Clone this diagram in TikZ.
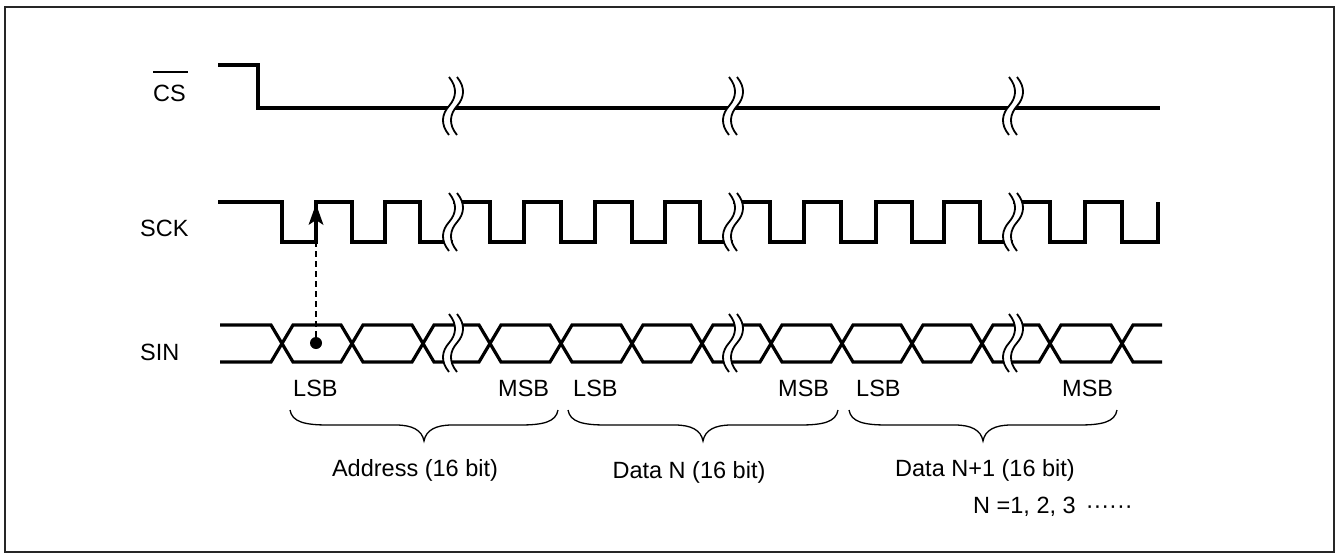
\documentclass[tikz,border=0pt]{standalone}
\usepackage{fontspec}
\setmainfont{Liberation Sans}
\usetikzlibrary{arrows.meta,calc}
\tikzset{
  sig/.style={line width=3.2pt},
  lbl/.style={inner sep=0pt,font=\fontsize{23.5}{28}\selectfont},
  brc/.style={line width=1.3pt},
  brkline/.style={line width=1.8pt},
  brk/.pic={
    \fill[white] (-4,-29) .. controls (5,-18) and (3,-8) .. (-4,0) .. controls (-11,8) and (-13,18) .. (-4,29)
      -- (4,29) .. controls (-5,18) and (-3,8) .. (4,0) .. controls (11,-8) and (13,-18) .. (4,-29) -- cycle;
    \draw[brkline] (-4,-29) .. controls (5,-18) and (3,-8) .. (-4,0) .. controls (-11,8) and (-13,18) .. (-4,29);
    \draw[brkline] (4,-29) .. controls (13,-18) and (11,-8) .. (4,0) .. controls (-3,8) and (-5,18) .. (4,29);
  }
}
\begin{document}
\begin{tikzpicture}[x=1pt,y=-1pt]
\useasboundingbox (0,0) rectangle (1338,558);
\draw[line width=2.4pt,draw=black!85] (5,7) rectangle (1334,552);

% CS
\draw[sig] (218,65) -- (258,65) -- (258,108) -- (1160,108);

% SCK
\draw[sig] (218,202) -- (282,202) -- (282,242) -- (316,242) -- (316,202) -- (352,202) -- (352,242) -- (385,242) -- (385,202) -- (420,202) -- (420,242) -- (453,242);
\draw[sig] (453,202) -- (490,202) -- (490,242) -- (524,242) -- (524,202) -- (561,202) -- (561,242) -- (595,242) -- (595,202) -- (632,202) -- (632,242) -- (665,242) -- (665,202) -- (700,202) -- (700,242) -- (733,242);
\draw[sig] (733,202) -- (770,202) -- (770,242) -- (804,242) -- (804,202) -- (841,202) -- (841,242) -- (876,242) -- (876,202) -- (912,202) -- (912,242) -- (944,242) -- (944,202) -- (980,202) -- (980,242) -- (1013,242);
\draw[sig] (1013,202) -- (1050,202) -- (1050,242) -- (1085,242) -- (1085,202) -- (1122,202) -- (1122,242) -- (1158,242) -- (1158,202);

% SIN
\draw[sig] (220,325) -- (271,325) -- (293,362) -- (341,362) -- (363,325) -- (412,325) -- (434,362) -- (453,362);
\draw[sig] (220,362) -- (271,362) -- (293,325) -- (341,325) -- (363,362) -- (412,362) -- (434,325) -- (453,325);
\draw[sig] (453,325) -- (479,325) -- (501,362) -- (550,362) -- (572,325) -- (621,325) -- (643,362) -- (691,362) -- (713,325) -- (733,325);
\draw[sig] (453,362) -- (479,362) -- (501,325) -- (550,325) -- (572,362) -- (621,362) -- (643,325) -- (691,325) -- (713,362) -- (733,362);
\draw[sig] (733,325) -- (760,325) -- (782,362) -- (831,362) -- (853,325) -- (901,325) -- (923,362) -- (971,362) -- (993,325) -- (1013,325);
\draw[sig] (733,362) -- (760,362) -- (782,325) -- (831,325) -- (853,362) -- (901,362) -- (923,325) -- (971,325) -- (993,362) -- (1013,362);
\draw[sig] (1013,325) -- (1039,325) -- (1061,362) -- (1111,362) -- (1133,325) -- (1162,325);
\draw[sig] (1013,362) -- (1039,362) -- (1061,325) -- (1111,325) -- (1133,362) -- (1162,362);

% breaks
\foreach \bx in {453,733,1013}{
  \pic at (\bx,106) {brk};
  \pic at (\bx,222) {brk};
  \pic at (\bx,343) {brk};
}

% sampling arrow
\node[circle,fill,inner sep=0pt,minimum size=12pt] (dot) at (316,343) {};
\coordinate (edge) at (316,204);
\draw[line width=2pt,dash pattern=on 6pt off 4pt] (dot) -- ($(edge)+(0,14)$);
\fill (edge) -- ++(7.5,21) -- ++(-7.5,-5) -- ++(-7.5,5) -- cycle;

% signal labels
\node[lbl,anchor=base west] (cs) at (153,101) {CS};
\draw[line width=2pt] ($(cs.base west)+(0,-29)$) -- ++(35,0);
\node[lbl,anchor=base west] (sck) at (140,236) {SCK};
\node[lbl,anchor=base west] (sin) at (140,360) {SIN};

% bit labels
\node[lbl,anchor=base west] (lsb1) at (293,396) {LSB};
\node[lbl,anchor=base west] (msb1) at (498,396) {MSB};
\node[lbl,anchor=base west] (lsb2) at (573,396) {LSB};
\node[lbl,anchor=base west] (msb2) at (778,396) {MSB};
\node[lbl,anchor=base west] (lsb3) at (856,396) {LSB};
\node[lbl,anchor=base west] (msb3) at (1062,396) {MSB};

% braces
\foreach \a/\b in {290/558,568/838,849/1117}{
  \pgfmathsetmacro{\m}{(\a+\b)/2}
  \draw[brc] (\a,410) .. controls (\a+2,422) and (\a+15,425) .. (\a+38,425) -- (\m-28,425)
    .. controls (\m-12,425) and (\m-2,430) .. (\m,441)
    .. controls (\m+2,430) and (\m+12,425) .. (\m+28,425) -- (\b-38,425)
    .. controls (\b-15,425) and (\b-2,422) .. (\b,410);
}

\node[lbl,anchor=base] (addr) at (415,476) {Address (16 bit)};
\node[lbl,anchor=base] (datan) at (689,478) {Data N (16 bit)};
\node[lbl,anchor=base] (datan1) at (985,476) {Data N+1 (16 bit)};
\node[lbl,anchor=base west] (nlist) at (973,513) {N =1, 2, 3\hspace{10pt}······};
\end{tikzpicture}
\end{document}
